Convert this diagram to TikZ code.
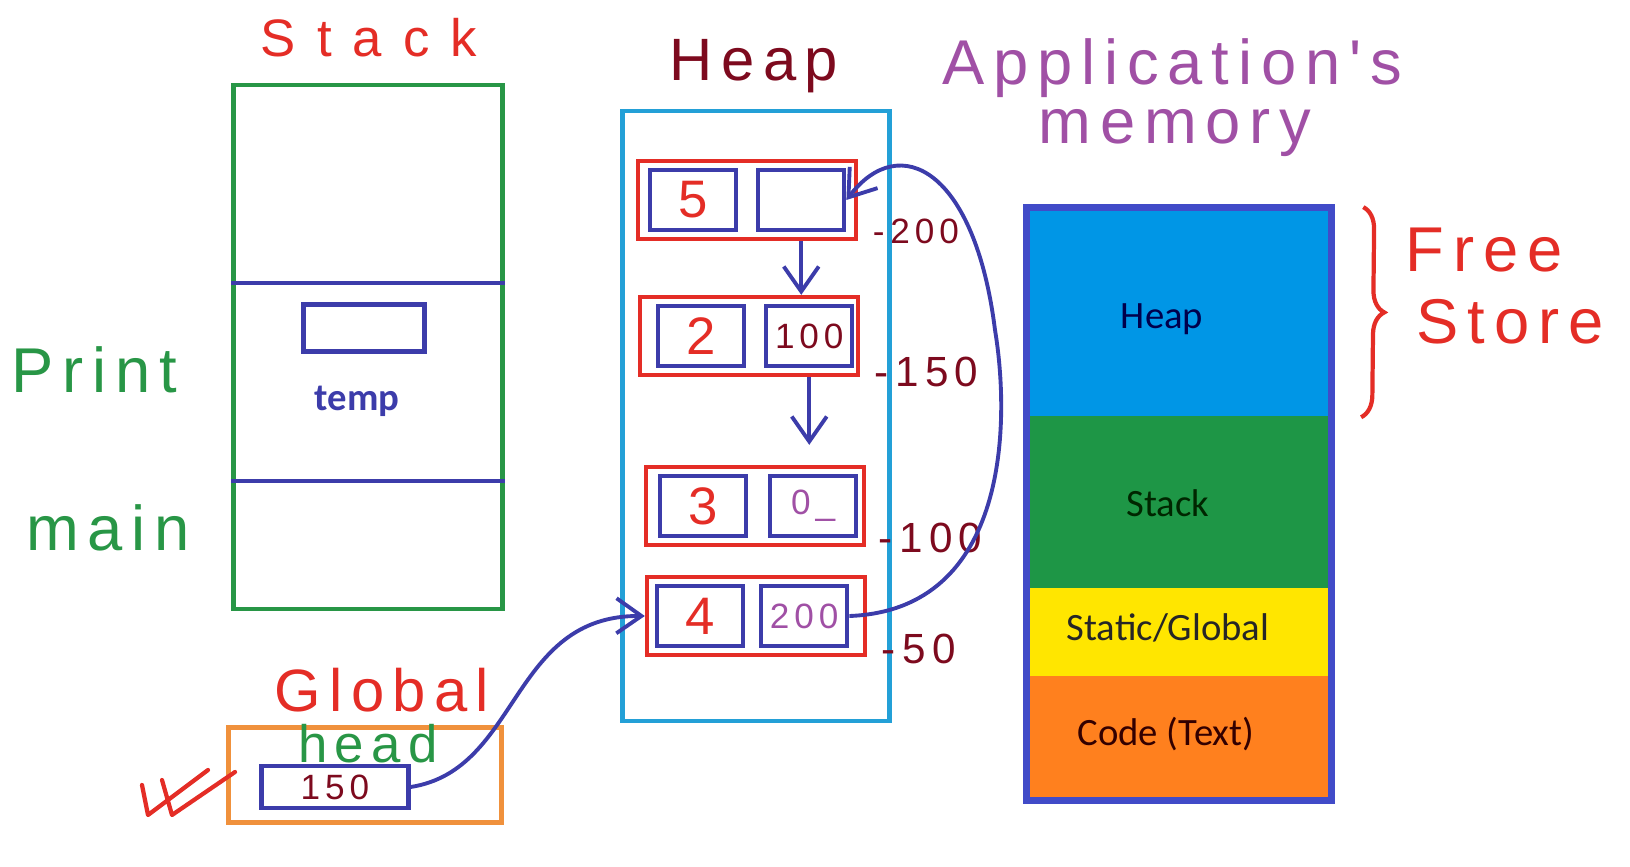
\documentclass[tikz,border=0pt]{standalone}
\usepackage{fontspec}
\setmainfont{Carlito}
\newfontfamily\handfont[LetterSpace=14]{Liberation Sans}
\usetikzlibrary{positioning, arrows.meta, decorations.pathreplacing}

\definecolor{redpen}{RGB}{228,45,38}
\definecolor{darkred}{RGB}{125,10,30}
\definecolor{greenpen}{RGB}{40,150,70}
\definecolor{bluepen}{RGB}{60,60,170}
\definecolor{cyanpen}{RGB}{35,160,215}
\definecolor{purplepen}{RGB}{160,80,165}
\definecolor{orangepen}{RGB}{240,145,60}
\definecolor{memblue}{RGB}{65,75,200}
\definecolor{heapfill}{RGB}{0,150,230}
\definecolor{stackfill}{RGB}{30,150,70}
\definecolor{staticfill}{RGB}{255,230,0}
\definecolor{codefill}{RGB}{255,128,30}

\begin{document}
\begin{tikzpicture}[x=0.01cm, y=-0.01cm,
    hand/.style={font=\handfont\fontsize{17}{20}\selectfont},
    bighand/.style={font=\handfont\fontsize{18}{22}\selectfont},
    smallhand/.style={font=\handfont\fontsize{10}{12}\selectfont},
    frame/.style={draw, line width=1.2pt, inner sep=0pt},
    listnode/.style={draw=redpen, line width=1.2pt, minimum width=2.18cm, minimum height=0.78cm, inner sep=0pt},
    cell/.style={draw=bluepen, line width=1.2pt, minimum width=0.86cm, minimum height=0.6cm, inner sep=0pt},
    datatext/.style={font=\handfont\fontsize{15}{18}\selectfont, text=redpen},
    addr/.style={font=\handfont\fontsize{12}{14}\selectfont, text=darkred, inner sep=0pt},
    ptr/.style={draw=bluepen, line width=1.1pt, -{Straight Barb[length=2.5mm, width=3.5mm]}},
    memsec/.style={minimum width=3cm, inner sep=0pt, outer sep=0pt},
    memtext/.style={font=\fontsize{11}{13}\selectfont, inner sep=0pt}
]
\useasboundingbox (0,0) rectangle (1630,867);

\node[hand, text=redpen, font=\handfont\fontsize{15}{18}\selectfont\addfontfeature{LetterSpace=40}] (stacktitle) at (369,38) {Stack};
\node[frame, draw=greenpen, minimum width=2.69cm, minimum height=5.24cm] (stack) at (368,347) {};
\draw[bluepen, line width=1.2pt] (stack.west |- 0,283) -- (stack.east |- 0,283);
\draw[bluepen, line width=1.2pt] (stack.west |- 0,481) -- (stack.east |- 0,481);
\node[frame, draw=bluepen, minimum width=1.21cm, minimum height=0.47cm] (tempbox) at (364,328) {};
\node[text=bluepen, font=\bfseries\fontsize{11}{13}\selectfont, below=0.2cm of tempbox, xshift=-0.07cm] (temp) {temp};
\node[bighand, text=greenpen] (print) at (94,370) {Print};
\node[bighand, text=greenpen] (main) at (108,528) {main};

\node[hand, text=redpen] (globaltitle) at (382,690) {Global};
\node[frame, draw=orangepen, minimum width=2.73cm, minimum height=0.95cm] (global) at (365,775) {};
\node[frame, draw=bluepen, minimum width=1.47cm, minimum height=0.42cm, smallhand, text=darkred] (headbox) at (335,787) {150};
\node[hand, text=greenpen, font=\handfont\fontsize{15}{18}\selectfont] (head) at (368,744) {head};
\draw[redpen, line width=1.2pt, line cap=round, line join=round]
    (142,785) -- (148,815) -- (208,770) (162,780) -- (172,815) -- (235,772);

\node[hand, text=darkred] (heaptitle) at (754,66) {Heap};
\node[frame, draw=cyanpen, minimum width=2.67cm, minimum height=6.09cm] (heap) at (756,416) {};

\node[listnode] (n1) at (747,200) {};
\node[cell, right=0.12cm of n1.west, datatext] (d1) {5};
\node[cell, right=0.18cm of d1] (p1) {};
\node[listnode] (n2) at (749,336) {};
\node[cell, right=0.18cm of n2.west, datatext] (d2) {2};
\node[cell, right=0.18cm of d2, smallhand, text=darkred] (p2) {100};
\node[listnode] (n3) at (755,506) {};
\node[cell, right=0.14cm of n3.west, datatext] (d3) {3};
\node[cell, right=0.2cm of d3, smallhand, text=purplepen] (p3) {0\_};
\node[listnode] (n4) at (756,616) {};
\node[cell, right=0.1cm of n4.west, datatext] (d4) {4};
\node[cell, right=0.14cm of d4, smallhand, text=purplepen] (p4) {200};

\node[addr, right=0.14cm of n1.south east, yshift=0.1cm, font=\handfont\fontsize{10}{12}\selectfont] (a1) {-\,200};
\node[addr, right=0.14cm of n2.south east, yshift=0.05cm] (a2) {-\,150};
\node[addr, right=0.12cm of n3.south east, yshift=0.09cm] (a3) {-\,100};
\node[addr, right=0.14cm of n4.south east, yshift=0.08cm] (a4) {-\,50};

\draw[ptr] (n1.south -| p1) -- (n2.north -| p1);
\draw[ptr, shorten >=0.2cm] (n2.south -| p2) -- (n3.north -| p2);
\draw[ptr] (p4.east) .. controls (1010,610) and (1010,420) .. (995,330)
    .. controls (975,170) and (900,130) .. (p1.east);
\draw[ptr] (headbox.east) .. controls (520,770) and (510,615) .. (n4.west);

\node[bighand, text=purplepen] (apptitle) at (1172,68) {Application's};
\node[bighand, text=purplepen] (memtitle) at (1175,133) {memory};
\node[minimum width=3.03cm, minimum height=5.92cm, inner sep=0pt] (mem) at (1179,504) {};
\node[memsec, fill=heapfill, minimum height=2.08cm, below=0.02cm of mem.north] (mheap) {};
\node[memsec, fill=stackfill, minimum height=1.73cm, below=-0.01cm of mheap] (mstack) {};
\node[memsec, fill=staticfill, minimum height=0.89cm, below=-0.01cm of mstack] (mstatic) {};
\node[memsec, fill=codefill, minimum height=1.23cm, below=-0.01cm of mstatic] (mcode) {};
\draw[memblue, line width=0.07cm] (mem.north west) rectangle (mem.south east);
\node[memtext, text=blue!30!black] (lheap) at ([xshift=-0.17cm, yshift=-0.06cm]mheap.center) {Heap};
\node[memtext, text=green!15!black] (lstack) at ([xshift=-0.11cm]mstack.center) {Stack};
\node[memtext, text=black!85] (lstatic) at ([xshift=-0.11cm, yshift=0.05cm]mstatic.center) {Static/Global};
\node[memtext, text=black!80!red] (lcode) at ([xshift=-0.13cm, yshift=0.04cm]mcode.center) {Code (Text)};

\draw[redpen, line width=1.2pt, decorate, decoration={brace, amplitude=0.22cm}]
    ([xshift=0.32cm]mem.north east) -- ([xshift=0.32cm]mheap.south east);
\node[bighand, text=redpen] (free) at (1484,250) {Free};
\node[bighand, text=redpen] (store) at (1510,322) {Store};
\end{tikzpicture}
\end{document}
